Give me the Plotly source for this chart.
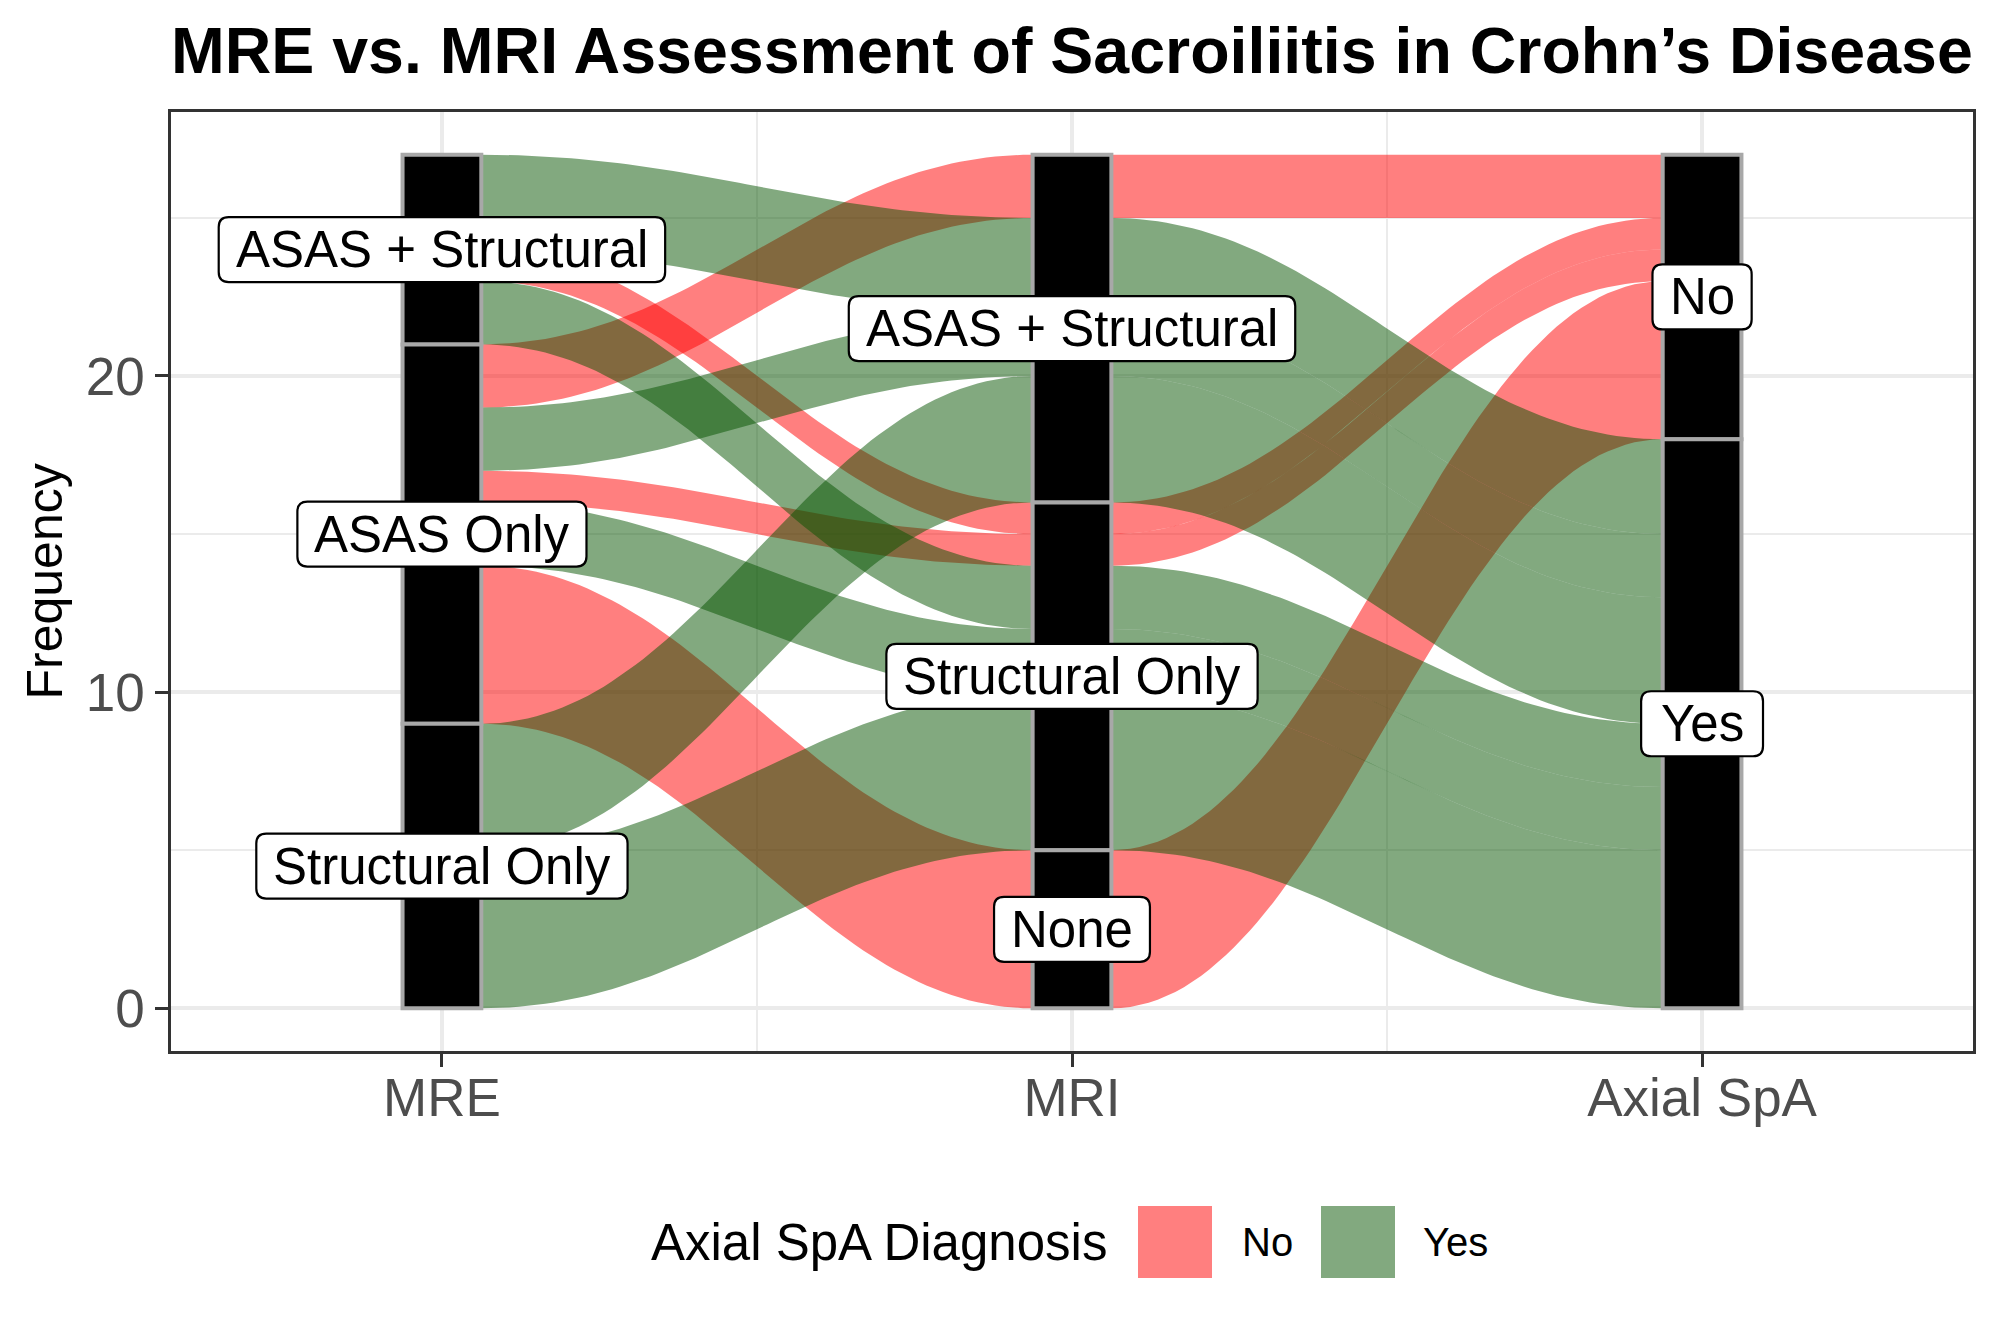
import numpy as np
import plotly.graph_objects as go

# ---------------- data ----------------
AXES = ["MRE", "MRI", "Axial SpA"]
MRE_LEVELS = ["ASAS + Structural", "ASAS Only", "Structural Only"]   # top -> bottom
MRI_LEVELS = ["ASAS + Structural", "Structural Only", "None"]
SPA_LEVELS = ["No", "Yes"]

mre_group = ["ASAS + Structural", "ASAS + Structural", "ASAS + Structural",
             "ASAS Only", "ASAS Only", "ASAS Only", "ASAS Only", "ASAS Only",
             "Structural Only", "Structural Only"]
mri_group = ["ASAS + Structural", "Structural Only", "Structural Only",
             "ASAS + Structural", "ASAS + Structural", "Structural Only", "Structural Only", "None",
             "ASAS + Structural", "Structural Only"]
spa_group = ["Yes", "No", "Yes",
             "No", "Yes", "No", "Yes", "No",
             "Yes", "Yes"]
patients = [3, 1, 2, 2, 2, 1, 2, 5, 4, 5]

FILL = {"No": "rgba(255,0,0,0.5)", "Yes": "rgba(5,84,0,0.5)"}
FONT = "Liberation Sans, Arial, sans-serif"

# ---------------- geometry helpers ----------------
W = 0.125          # stratum width (axis units)
K = 0.40           # curve control fraction
levels = [MRE_LEVELS, MRI_LEVELS, SPA_LEVELS]
cols = [mre_group, mri_group, spa_group]
n = len(patients)
total = sum(patients)
ranks = [[levels[k].index(cols[k][i]) for k in range(3)] for i in range(n)]
priority = {0: (0, 1, 2), 1: (1, 2, 0), 2: (2, 1, 0)}

lodes = {}
for k in range(3):
    order = sorted(range(n), key=lambda i: tuple(ranks[i][p] for p in priority[k]))
    top = total
    for i in order:
        lodes[(i, k)] = (top - patients[i], top)
        top -= patients[i]

def bez(x0, y0, x1, y1, m=70):
    t = np.linspace(0, 1, m)
    d = x1 - x0
    px = [x0, x0 + K * d, x1 - K * d, x1]
    py = [y0, y0, y1, y1]
    bx = (1-t)**3*px[0] + 3*(1-t)**2*t*px[1] + 3*(1-t)*t**2*px[2] + t**3*px[3]
    by = (1-t)**3*py[0] + 3*(1-t)**2*t*py[1] + 3*(1-t)*t**2*py[2] + t**3*py[3]
    return bx, by

fig = go.Figure()

# flows: red ("No") first, green ("Yes") drawn over them
for grp in SPA_LEVELS:
    for i in range(n):
        if spa_group[i] != grp:
            continue
        for k in range(2):
            xa = k + 1 + W / 2
            xb = k + 2 - W / 2
            (ba, ta), (bb, tb) = lodes[(i, k)], lodes[(i, k + 1)]
            tx, ty = bez(xa, ta, xb, tb)
            lx, ly = bez(xa, ba, xb, bb)
            fig.add_trace(go.Scatter(
                x=np.concatenate([tx, lx[::-1]]), y=np.concatenate([ty, ly[::-1]]),
                mode="lines", line=dict(width=0), fill="toself", fillcolor=FILL[grp],
                hoverinfo="skip", showlegend=False))

# strata boxes
strata = []
for k in range(3):
    top = total
    for lev in levels[k]:
        cnt = sum(p for p, c in zip(patients, cols[k]) if c == lev)
        strata.append((k + 1, top - cnt, top, lev))
        top -= cnt
for xc, y0, y1, lev in strata:
    fig.add_shape(type="rect", xref="x", yref="y", x0=xc - W / 2, x1=xc + W / 2, y0=y0, y1=y1,
                  fillcolor="black", line=dict(color="#A8A8A8", width=4), layer="above")

# stratum labels (rounded white boxes)
CW = {"A": 667, "S": 667, "+": 584, " ": 278, "t": 278, "r": 333, "u": 556, "c": 500, "a": 556,
      "l": 222, "O": 778, "n": 556, "y": 500, "N": 722, "o": 556, "e": 556, "Y": 667, "s": 500}
LFS = 51
for xc, y0, y1, lev in strata:
    tw = sum(CW.get(ch, 556) for ch in lev) / 1000 * LFS
    hw, hh, r = tw / 2 + 17, 32.5, 10
    path = (f"M {-hw+r},{-hh} L {hw-r},{-hh} Q {hw},{-hh} {hw},{-hh+r} L {hw},{hh-r} "
            f"Q {hw},{hh} {hw-r},{hh} L {-hw+r},{hh} Q {-hw},{hh} {-hw},{hh-r} "
            f"L {-hw},{-hh+r} Q {-hw},{-hh} {-hw+r},{-hh} Z")
    ym = (y0 + y1) / 2
    fig.add_shape(type="path", xref="x", yref="y", xsizemode="pixel", ysizemode="pixel",
                  xanchor=xc, yanchor=ym, path=path, fillcolor="white",
                  line=dict(color="black", width=2.2), layer="above")
    fig.add_annotation(x=xc, y=ym, xref="x", yref="y", text=lev, showarrow=False,
                       font=dict(family=FONT, size=LFS, color="black"),
                       xanchor="center", yanchor="middle")

# ---------------- layout ----------------
OFF = 8                      # page body margin of the html page
L, R, T, B = 171, 1973, 112, 1051   # target plot panel (screen px)
PW, PH = R - L, B - T
def px2paper(px, py):
    return (px - L) / PW, (B - py) / PH

fig.update_layout(
    width=2000, height=1333,
    margin=dict(l=L - OFF, r=2000 - (R - OFF), t=T - OFF, b=1333 - (B - OFF)),
    paper_bgcolor="white", plot_bgcolor="white",
    showlegend=False,
    title=dict(text="<b>MRE vs. MRI Assessment of Sacroiliitis in Crohn’s Disease</b>",
               x=(L - OFF) / 2000, xanchor="left", xref="container",
               y=1 - (50 - OFF) / 1333, yanchor="middle", yref="container",
               font=dict(family=FONT, size=64.5, color="black")),
)
fig.update_xaxes(
    range=[0.57, 3.43], tickvals=[1, 2, 3], ticktext=AXES,
    tickfont=dict(family=FONT, size=53, color="#4D4D4D"),
    ticks="outside", ticklen=13, tickwidth=3, tickcolor="#333333",
    ticklabelstandoff=-14,
    showgrid=True, gridcolor="#EBEBEB", gridwidth=3.5, zeroline=False,
    minor=dict(tickvals=[1.5, 2.5], showgrid=True, gridcolor="#EBEBEB", gridwidth=1.8),
    showline=True, mirror=True, linecolor="#333333", linewidth=2.5,
)
fig.update_yaxes(
    range=[-1.35, 28.35], tickvals=[0, 10, 20],
    tickfont=dict(family=FONT, size=53, color="#4D4D4D"),
    ticks="outside", ticklen=13, tickwidth=3, tickcolor="#333333",
    showgrid=True, gridcolor="#EBEBEB", gridwidth=3.5, zeroline=False,
    minor=dict(tickvals=[5, 15, 25], showgrid=True, gridcolor="#EBEBEB", gridwidth=1.8),
    showline=True, mirror=True, linecolor="#333333", linewidth=2.5,
)

# y axis title
fx, fy = px2paper(44, 580)
fig.add_annotation(x=fx, y=0.5, xref="paper", yref="paper", text="Frequency", textangle=-90,
                   showarrow=False, font=dict(family=FONT, size=50, color="black"),
                   xanchor="center", yanchor="middle")

# manual legend
lx, ly = px2paper(649, 1242)
fig.add_annotation(x=lx, y=ly, xref="paper", yref="paper", text="Axial SpA Diagnosis",
                   showarrow=False, font=dict(family=FONT, size=51, color="black"),
                   xanchor="left", yanchor="middle")
for lab, kx0, tx in [("No", 1138, 1240), ("Yes", 1321, 1421)]:
    x0, y0 = px2paper(kx0, 1278)
    x1, y1 = px2paper(kx0 + 74, 1206)
    fig.add_shape(type="rect", xref="paper", yref="paper", x0=x0, x1=x1, y0=y0, y1=y1,
                  fillcolor=FILL[lab], line=dict(width=0))
    ax, ay = px2paper(tx, 1242)
    fig.add_annotation(x=ax, y=ay, xref="paper", yref="paper", text=lab, showarrow=False,
                       font=dict(family=FONT, size=40, color="black"),
                       xanchor="left", yanchor="middle")

fig.write_html("out.html")
